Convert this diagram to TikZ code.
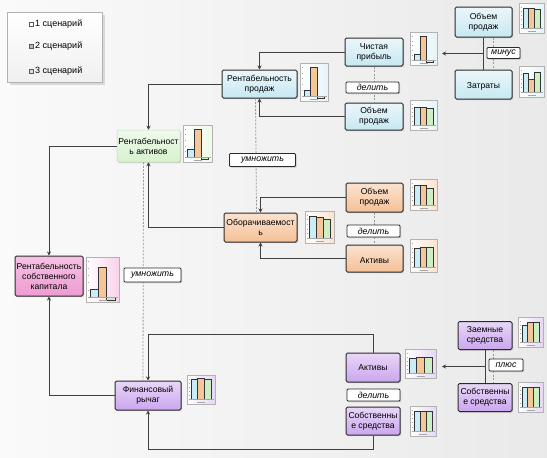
\documentclass[tikz,border=0pt]{standalone}
\usepackage{fontspec}
\setmainfont{Liberation Sans}
\usetikzlibrary{arrows.meta,positioning,shadows,calc}
\definecolor{boxline}{HTML}{2B2B2B}
\definecolor{linkgray}{HTML}{404040}
\definecolor{dashgray}{HTML}{9A9A9A}
\definecolor{salesblue}{HTML}{C6E8F2}
\definecolor{assetgreen}{HTML}{D6F2CC}
\definecolor{turnorange}{HTML}{F5C096}
\definecolor{equitypink}{HTML}{EE9BD2}
\definecolor{leverpurple}{HTML}{CBA6EE}
\definecolor{barblue}{HTML}{C9ECF6}
\definecolor{barorange}{HTML}{F5C697}
\definecolor{bargreen}{HTML}{CDEFC4}
\tikzset{factor/.style={draw=boxline, line width=1pt, rounded corners=1.5pt,
  align=center, inner sep=1pt, font=\fontsize{8.6}{10}\selectfont,
  drop shadow={shadow xshift=1.2pt, shadow yshift=-1.2pt, opacity=0.35}},
  salesbox/.style={factor, top color=salesblue!35, bottom color=salesblue},
  assetbox/.style={factor, draw=assetgreen!80!gray, line width=0.5pt,
    top color=assetgreen!40, bottom color=assetgreen},
  turnbox/.style={factor, top color=turnorange!45, bottom color=turnorange},
  equitybox/.style={factor, top color=equitypink!60, bottom color=equitypink},
  leverbox/.style={factor, top color=leverpurple!45, bottom color=leverpurple},
  oplabel/.style={draw=boxline, fill=white, rounded corners=1pt, line width=0.8pt,
    inner sep=0pt, font=\fontsize{8.8}{10}\selectfont\itshape,
    drop shadow={shadow xshift=1pt, shadow yshift=-1pt, opacity=0.4}},
  link/.style={draw=linkgray, line width=1pt, -{Stealth[length=4pt,width=4pt]}},
  plainlink/.style={draw=linkgray, line width=1pt},
  opdash/.style={draw=dashgray, line width=0.8pt, dash pattern=on 2pt off 1.5pt},
  chartframe/.style={draw=gray!60, line width=0.5pt},
  charttick/.style={draw=gray!70, line width=0.4pt},
  barline/.style={draw=black!80, line width=0.5pt},
  legendkey/.style={draw=gray!70!black, line width=0.5pt, minimum size=4.5pt, inner sep=0pt},
  legendtext/.style={font=\fontsize{9}{10}\selectfont, inner sep=1pt},
  pics/minichart/.style n args={6}{code={
    \pgfmathsetmacro\barw{(#1-8)/3}
    \shade[left color=white, right color=#6!45] (0,0) rectangle (#1,#2);
    \draw[chartframe] (0,0) rectangle (#1,#2);
    \foreach \k in {0,...,5}
      \draw[charttick] (1.5,{4+\k*(#2-9)/5}) -- ++(1.5,0);
    \draw[barline, fill=barblue] (4,#2-5) rectangle ++(\barw,{-(#3)});
    \draw[barline, fill=barorange] ({4+\barw},#2-5) rectangle ++(\barw,{-(#4)});
    \draw[barline, fill=bargreen] ({4+2*\barw},#2-5) rectangle ++(\barw,{-(#5)});
    \draw[charttick] (3,#2-5) -- (#1-1,#2-5);
    \draw[charttick] (#1/2-4,#2-2) -- ++(8,0);
  }}}

\begin{document}
\begin{tikzpicture}[x=1pt, y=-1pt]
  \useasboundingbox (0,0) rectangle (547,458);
  \shade[left color=gray!4, right color=gray!17] (0,0) rectangle (547,458);

  % legend
  \node[draw=gray!60, top color=white, bottom color=gray!12, minimum width=95pt,
    minimum height=70pt, drop shadow={opacity=0.25}] (legend) at (54.5,47) {};
  \node[legendkey, fill=white] (k1) at (31,24) {};
  \node[legendkey, fill=barorange!70!gray] (k2) at (31,46) {};
  \node[legendkey, fill=bargreen!60!gray!50] (k3) at (31,71) {};
  \node[legendtext, right=0.5pt of k1] (t1) {1 сценарий};
  \node[legendtext, right=0.5pt of k2] (t2) {2 сценарий};
  \node[legendtext, right=0.5pt of k3] (t3) {3 сценарий};

  % factors
  \node[salesbox, minimum width=75pt, minimum height=28pt] (rp) at (259.5,84) {Рентабельность\\продаж};
  \node[salesbox, minimum width=58pt, minimum height=28pt] (np) at (374,52) {Чистая\\прибыль};
  \node[salesbox, minimum width=57pt, minimum height=30pt] (vtr) at (483.5,22) {Объем\\продаж};
  \node[salesbox, minimum width=57pt, minimum height=29pt] (zat) at (483.5,84.5) {\\Затраты};
  \node[salesbox, minimum width=58pt, minimum height=27pt] (vo1) at (374,116.5) {Объем\\продаж};
  \node[assetbox, minimum width=63pt, minimum height=32pt] (ra) at (148.5,146) {Рентабельност\\ь активов};
  \node[turnbox, minimum width=73pt, minimum height=29pt] (ob) at (260.5,227.5) {Оборачиваемост\\ь};
  \node[turnbox, minimum width=57pt, minimum height=29pt] (vo2) at (374.5,197.5) {Объем\\продаж};
  \node[turnbox, minimum width=57pt, minimum height=27pt] (ak1) at (374.5,258.5) {\\Активы};
  \node[equitybox, minimum width=68pt, minimum height=40pt] (rsk) at (49,276) {Рентабельность\\собственного\\капитала};
  \node[leverbox, minimum width=66pt, minimum height=29pt] (fr) at (148,395.5) {Финансовый\\рычаг};
  \node[leverbox, minimum width=54pt, minimum height=29pt] (akp) at (373,367.5) {Активы};
  \node[leverbox, minimum width=54pt, minimum height=28pt] (ssp) at (373,421) {Собственны\\е средства};
  \node[leverbox, minimum width=54pt, minimum height=28pt] (zs) at (485,335.5) {Заемные\\средства};
  \node[leverbox, minimum width=54pt, minimum height=28pt] (ssr) at (485,397.5) {Собственны\\е средства};

  % small charts
  \pic at (300,63) {minichart={28}{38}{6}{29}{-2}{salesblue}};
  \pic at (410,32) {minichart={27}{33}{6}{24}{-2}{salesblue}};
  \pic at (519,3) {minichart={25}{30}{20}{20}{19}{salesblue}};
  \pic at (519,66) {minichart={25}{31}{19}{13}{20}{salesblue}};
  \pic at (410,100) {minichart={27}{30}{18}{18}{17}{salesblue}};
  \pic at (183,125) {minichart={29}{37}{8}{28}{-2}{assetgreen}};
  \pic at (305,211) {minichart={29}{32}{22}{21}{19}{turnorange}};
  \pic at (410,179) {minichart={27}{31}{20}{20}{17}{turnorange}};
  \pic at (410,239) {minichart={27}{33}{19}{20}{20}{turnorange}};
  \pic at (86,257) {minichart={33}{45}{8}{30}{-3}{equitypink}};
  \pic at (187,375) {minichart={28}{29}{20}{21}{20}{leverpurple}};
  \pic at (405,349) {minichart={31}{29}{15}{16}{16}{leverpurple}};
  \pic at (410,406) {minichart={26}{30}{20}{20}{20}{leverpurple}};
  \pic at (518,317) {minichart={25}{30}{17}{20}{20}{leverpurple}};
  \pic at (518,382) {minichart={25}{30}{20}{20}{20}{leverpurple}};

  % dashed operation lines
  \draw[opdash] (np.south) -- (vo1.north);
  \draw[opdash] (vo2.south) -- (ak1.north);
  \draw[opdash] ([xshift=10pt]vtr.south) -- ([xshift=10pt]zat.north);
  \draw[opdash] ([xshift=8pt]zs.south) -- ([xshift=8pt]ssr.north);
  \draw[opdash] ([xshift=-4pt]rp.south) -- ([xshift=-4pt]ob.north);
  \draw[opdash] ([xshift=-5pt]ra.south) -- ([xshift=-5pt]fr.north);

  % connectors
  \coordinate (minusin) at (442,53.5);
  \coordinate (plusin) at (442,366.5);
  \draw[link] (np.west) -| (rp.north);
  \draw[link] (vo1.west) -| (rp.south);
  \draw[link] (vo2.west) -| (ob.north);
  \draw[link] (ak1.west) -| (ob.south);
  \draw[link] (rp.west) -| (ra.north);
  \draw[link] (ob.west) -| (ra.south);
  \draw[link] (ra.west) -| (rsk.north);
  \draw[link] (fr.west) -| (rsk.south);
  \draw[link] (akp.north) -- ++(0,-18) -| (fr.north);
  \draw[link] (ssp.south) -- ++(0,14) -| (fr.south);
  \draw[plainlink] (vtr.south) -- (zat.north);
  \draw[link] ($(vtr.south)!0.5!(zat.north)$) -- (minusin);
  \draw[plainlink] (zs.south) -- (ssr.north);
  \draw[link] ($(zs.south)!0.5!(ssr.north)$) -- (plusin);

  % operation labels
  \node[oplabel, minimum width=33pt, minimum height=11pt] (minus) at (503.5,53) {минус};
  \node[oplabel, minimum width=53pt, minimum height=11pt] (div1) at (372.5,87.5) {делить};
  \node[oplabel, minimum width=66pt, minimum height=13pt] (mul1) at (262.5,160) {умножить};
  \node[oplabel, minimum width=53pt, minimum height=12pt] (div2) at (373.5,231) {делить};
  \node[oplabel, minimum width=57pt, minimum height=14pt] (mul2) at (152.5,275) {умножить};
  \node[oplabel, minimum width=53pt, minimum height=12pt] (div3) at (373.5,395) {делить};
  \node[oplabel, minimum width=34pt, minimum height=12pt] (plus) at (506,365) {плюс};
\end{tikzpicture}
\end{document}
